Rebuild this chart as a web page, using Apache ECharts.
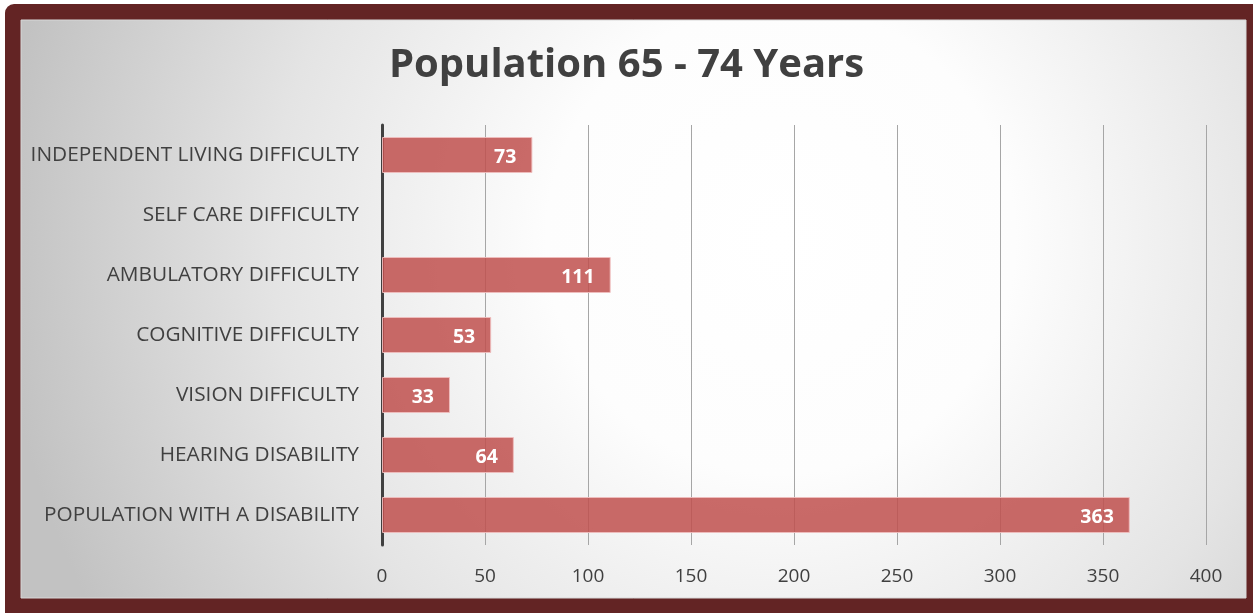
<!DOCTYPE html>
<html><head><meta charset="utf-8">
<script src="https://cdn.jsdelivr.net/npm/echarts@6/dist/echarts.min.js"></script>
<style>html,body{margin:0;padding:0;background:#fff;}#c{width:1253px;height:613px;}</style>
</head><body><div id="c"></div>
<script>
const categories = ["INDEPENDENT LIVING DIFFICULTY","SELF CARE DIFFICULTY","AMBULATORY DIFFICULTY","COGNITIVE DIFFICULTY","VISION DIFFICULTY","HEARING DISABILITY","POPULATION WITH A DISABILITY"];
const values = [73, null, 111, 53, 33, 64, 363];
const titleText = "Population 65 - 74 Years";

const chart = echarts.init(document.getElementById('c'));
chart.setOption({
  animation: false,
  graphic: [
    {type:'rect', z:-10, silent:true, shape:{x:5,y:4,width:1260,height:620,r:[9,0,0,0]}, style:{fill:'#632424'}},
    {type:'rect', z:-9, silent:true, shape:{x:21,y:20,width:1225,height:578}, style:{
      fill:{type:'radial', x:0.62, y:0.38, r:1.35, colorStops:[{offset:0,color:'#ffffff'},{offset:0.3,color:'#fdfdfd'},{offset:0.65,color:'#e4e4e4'},{offset:1,color:'#c2c2c2'}]},
      stroke:'#d8d8d8', lineWidth:1}}
  ],
  title: {text: titleText, left: 'center', top: 41, textStyle:{fontFamily:'Open Sans', fontWeight:'bold', fontSize:40, color:'#404040'}},
  grid: {left: 382, right: 47, top: 125, bottom: 68},
  xAxis: {type:'value', min:0, max:400, interval:50,
    axisLine:{show:false}, axisTick:{show:false},
    splitLine:{lineStyle:{color:'#a6a6a6', width:1}},
    axisLabel:{color:'#404040', fontFamily:'Open Sans', fontSize:19, margin:22}},
  yAxis: {type:'category', data: categories, inverse:true,
    axisLine:{lineStyle:{color:'#404040', width:3}}, axisTick:{show:false},
    axisLabel:{color:'#404040', fontFamily:'Open Sans', fontSize:20.8, margin:23}},
  series: [{type:'bar', data: values, barWidth:'60%',
    itemStyle:{color:'rgba(192,80,77,0.85)', borderColor:'rgba(240,190,190,0.9)', borderWidth:1},
    label:{show:true, position:'insideRight', distance:16, offset:[0,2], color:'#ffffff', fontFamily:'Open Sans', fontWeight:'bold', fontSize:19.5}
  }]
});
</script></body></html>
